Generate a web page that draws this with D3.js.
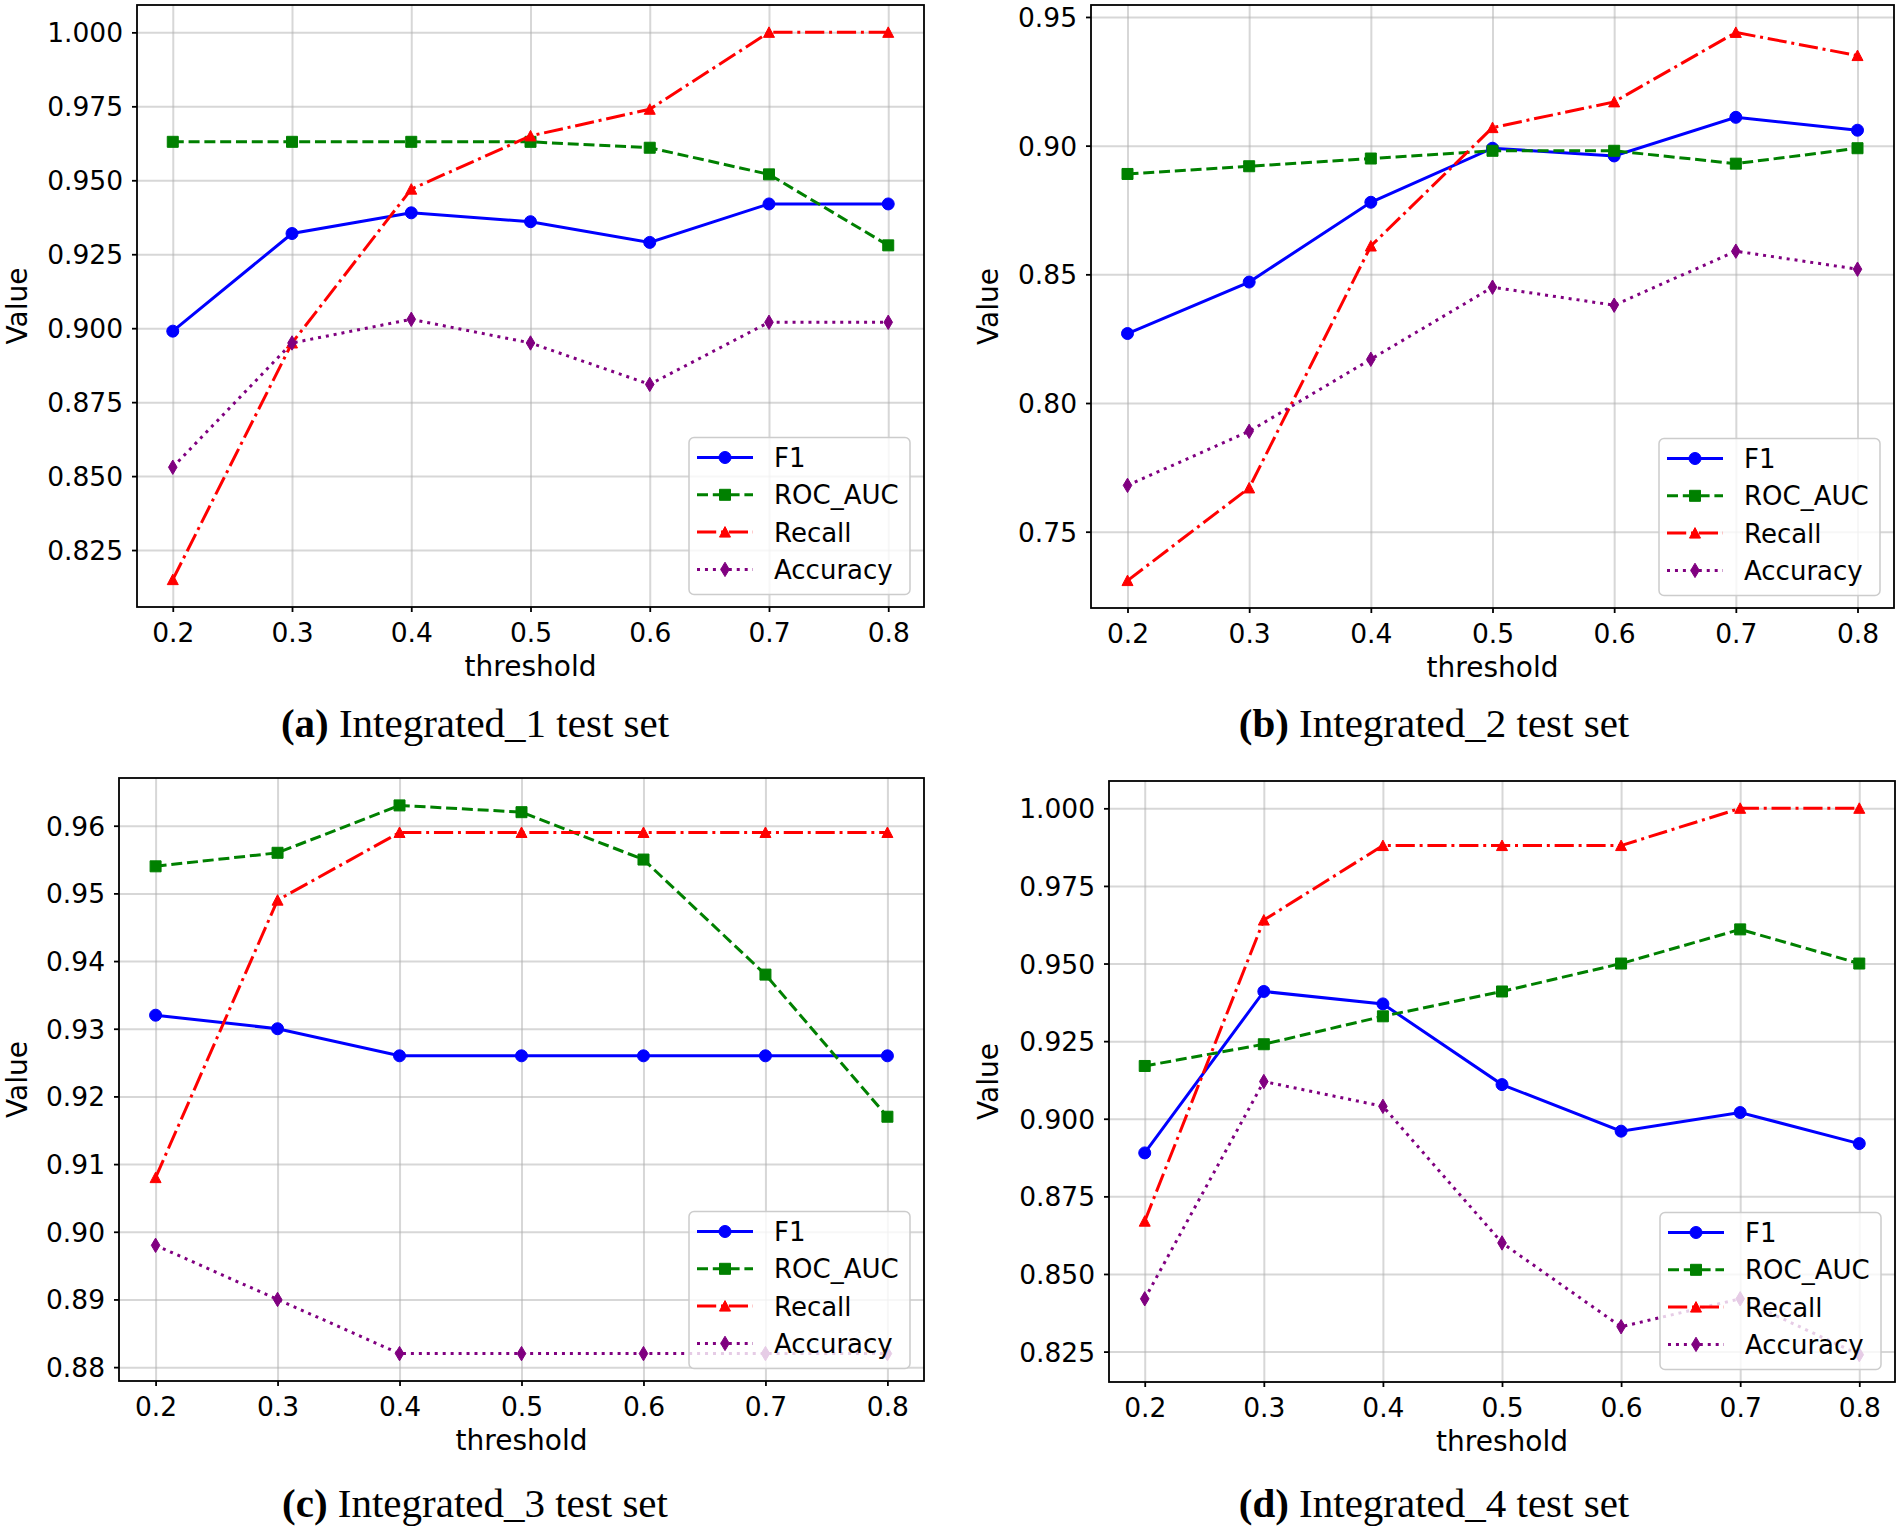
<!DOCTYPE html>
<html>
<head>
<meta charset="utf-8">
<script src="https://cdn.jsdelivr.net/npm/d3@7"></script>
<style>
  body { margin: 0; background: #fff; }
  svg { display: block; }
</style>
</head>
<body>
<div id="chart"></div>
<script>
// thresholds on the x axis
const thresholds = [0.2, 0.3, 0.4, 0.5, 0.6, 0.7, 0.8];
const metricNames = ["F1", "ROC_AUC", "Recall", "Accuracy"];

// (a) Integrated_1
const f1_1     = [0.899, 0.932, 0.939, 0.936, 0.929, 0.942, 0.942];
const roc_1    = [0.963, 0.963, 0.963, 0.963, 0.961, 0.952, 0.928];
const recall_1 = [0.815, 0.895, 0.947, 0.965, 0.974, 1.000, 1.000];
const acc_1    = [0.853, 0.895, 0.903, 0.895, 0.881, 0.902, 0.902];

// (b) Integrated_2
const f1_2     = [0.827, 0.847, 0.878, 0.899, 0.896, 0.911, 0.906];
const roc_2    = [0.889, 0.892, 0.895, 0.898, 0.898, 0.893, 0.899];
const recall_2 = [0.731, 0.767, 0.861, 0.907, 0.917, 0.944, 0.935];
const acc_2    = [0.768, 0.789, 0.817, 0.845, 0.838, 0.859, 0.852];

// (c) Integrated_3
const f1_3     = [0.932, 0.930, 0.926, 0.926, 0.926, 0.926, 0.926];
const roc_3    = [0.954, 0.956, 0.963, 0.962, 0.955, 0.938, 0.917];
const recall_3 = [0.908, 0.949, 0.959, 0.959, 0.959, 0.959, 0.959];
const acc_3    = [0.898, 0.890, 0.882, 0.882, 0.882, 0.882, 0.882];

// (d) Integrated_4
const f1_4     = [0.889, 0.941, 0.937, 0.911, 0.896, 0.902, 0.892];
const roc_4    = [0.917, 0.924, 0.933, 0.941, 0.950, 0.961, 0.950];
const recall_4 = [0.867, 0.964, 0.988, 0.988, 0.988, 1.000, 1.000];
const acc_4    = [0.842, 0.912, 0.904, 0.860, 0.833, 0.842, 0.824];

// tick values
const xTicks = [0.2, 0.3, 0.4, 0.5, 0.6, 0.7, 0.8];
const yTicks_1 = [0.825, 0.850, 0.875, 0.900, 0.925, 0.950, 0.975, 1.000];
const yTicks_2 = [0.75, 0.80, 0.85, 0.90, 0.95];
const yTicks_3 = [0.88, 0.89, 0.90, 0.91, 0.92, 0.93, 0.94, 0.95, 0.96];
const yTicks_4 = [0.825, 0.850, 0.875, 0.900, 0.925, 0.950, 0.975, 1.000];

const captionTags = ["(a)", "(b)", "(c)", "(d)"];
const captionTexts = ["Integrated_1 test set", "Integrated_2 test set", "Integrated_3 test set", "Integrated_4 test set"];

// layout of the four panels (pixels)
const panels = [
    {series: [f1_1, roc_1, recall_1, acc_1], yTicks: yTicks_1, fmt: ".3f",
     box: {left: 137, right: 924, top: 5, bottom: 607}, labelX: 27, capX: 475, capY: 737},
    {series: [f1_2, roc_2, recall_2, acc_2], yTicks: yTicks_2, fmt: ".2f",
     box: {left: 1091, right: 1894, top: 5, bottom: 608}, labelX: 998, capX: 1434, capY: 737},
    {series: [f1_3, roc_3, recall_3, acc_3], yTicks: yTicks_3, fmt: ".2f",
     box: {left: 119, right: 924, top: 778, bottom: 1381}, labelX: 27, capX: 475, capY: 1517},
    {series: [f1_4, roc_4, recall_4, acc_4], yTicks: yTicks_4, fmt: ".3f",
     box: {left: 1109, right: 1895, top: 781, bottom: 1382}, labelX: 998, capX: 1434, capY: 1517}
];

const styles = [
    {color: "#0000ff", dash: null, marker: "circle"},
    {color: "#008000", dash: "11,4.8", marker: "square"},
    {color: "#ff0000", dash: "19.2,4.8,3,4.8", marker: "triangle"},
    {color: "#800080", dash: "3,4.95", marker: "diamond"}
];

const tickFont = "DejaVu Sans, Verdana, sans-serif";

function markerPath(type) {
    if (type === "circle") return "M6,0A6,6 0 1,1 -6,0A6,6 0 1,1 6,0Z";
    if (type === "square") return "M-5.5,-5.5H5.5V5.5H-5.5Z";
    if (type === "triangle") return "M0,-5.5L5.5,5L-5.5,5Z";
    return "M0,-7.2L4.3,0L0,7.2L-4.3,0Z";
}

const svg = d3.select("#chart").append("svg")
    .attr("width", 1900)
    .attr("height", 1529);

svg.append("rect").attr("width", 1900).attr("height", 1529).attr("fill", "#fff");

panels.forEach(function (p, pi) {
    let b = p.box;
    let g = svg.append("g");

    let all = p.series.flat();
    let lo = d3.min(all), hi = d3.max(all);
    let pad = (hi - lo) * 0.05;

    let x = d3.scaleLinear().domain([0.17, 0.83]).range([b.left, b.right]);
    let y = d3.scaleLinear().domain([lo - pad, hi + pad]).range([b.bottom, b.top]);

    // grid
    g.append("g")
        .attr("transform", "translate(0," + b.bottom + ")")
        .call(d3.axisBottom(x).tickValues(xTicks).tickSize(-(b.bottom - b.top)).tickFormat(""))
        .call(s => s.select(".domain").remove())
        .selectAll("line").attr("stroke", "#b0b0b0").attr("stroke-opacity", 0.5).attr("stroke-width", 2);
    g.append("g")
        .attr("transform", "translate(" + b.left + ",0)")
        .call(d3.axisLeft(y).tickValues(p.yTicks).tickSize(-(b.right - b.left)).tickFormat(""))
        .call(s => s.select(".domain").remove())
        .selectAll("line").attr("stroke", "#b0b0b0").attr("stroke-opacity", 0.5).attr("stroke-width", 2);

    // lines + markers
    let line = d3.line().x((d, i) => x(thresholds[i])).y(d => y(d));
    p.series.forEach(function (vals, si) {
        let st = styles[si];
        g.append("path")
            .attr("d", line(vals))
            .attr("fill", "none")
            .attr("stroke", st.color)
            .attr("stroke-width", 3)
            .attr("stroke-dasharray", st.dash);
        g.selectAll(".m" + si)
            .data(vals)
            .enter()
            .append("path")
            .attr("class", "m" + si)
            .attr("d", markerPath(st.marker))
            .attr("transform", (d, i) => "translate(" + x(thresholds[i]) + "," + y(d) + ")")
            .attr("fill", st.color)
            .attr("stroke", st.color)
            .attr("stroke-width", 1);
    });

    // axes
    let xAxis = g.append("g")
        .attr("transform", "translate(0," + b.bottom + ")")
        .call(d3.axisBottom(x).tickValues(xTicks).tickSize(5).tickPadding(8).tickFormat(d3.format(".1f")));
    let yAxis = g.append("g")
        .attr("transform", "translate(" + b.left + ",0)")
        .call(d3.axisLeft(y).tickValues(p.yTicks).tickSize(5).tickPadding(9).tickFormat(d3.format(p.fmt)));
    [xAxis, yAxis].forEach(function (a) {
        a.select(".domain").remove();
        a.selectAll("line").attr("stroke", "#000").attr("stroke-width", 1.8);
        a.selectAll("text").attr("font-family", tickFont).attr("font-size", 26.5).attr("fill", "#000");
    });
    xAxis.selectAll("text").attr("dy", null).attr("y", 35);
    yAxis.selectAll("text").attr("dy", "0.36em");

    // frame
    g.append("rect")
        .attr("x", b.left).attr("y", b.top)
        .attr("width", b.right - b.left).attr("height", b.bottom - b.top)
        .attr("fill", "none").attr("stroke", "#000").attr("stroke-width", 1.8);

    // axis labels
    g.append("text")
        .attr("x", (b.left + b.right) / 2)
        .attr("y", b.bottom + 69)
        .attr("text-anchor", "middle")
        .attr("font-family", tickFont).attr("font-size", 28)
        .text("threshold");
    g.append("text")
        .attr("transform", "translate(" + p.labelX + "," + ((b.top + b.bottom) / 2) + ") rotate(-90)")
        .attr("text-anchor", "middle")
        .attr("font-family", tickFont).attr("font-size", 28)
        .text("Value");

    // legend
    let lw = 221, lh = 157;
    let lx = b.right - 14 - lw, ly = b.bottom - 12.5 - lh;
    let leg = g.append("g").attr("transform", "translate(" + lx + "," + ly + ")");
    leg.append("rect")
        .attr("width", lw).attr("height", lh).attr("rx", 5)
        .attr("fill", "#fff").attr("fill-opacity", 0.8)
        .attr("stroke", "#cccccc").attr("stroke-width", 1.5);
    metricNames.forEach(function (name, si) {
        let st = styles[si];
        let ey = 20 + si * 37.3;
        leg.append("line")
            .attr("x1", 8).attr("x2", 64).attr("y1", ey).attr("y2", ey)
            .attr("stroke", st.color).attr("stroke-width", 3)
            .attr("stroke-dasharray", st.dash);
        leg.append("path")
            .attr("d", markerPath(st.marker))
            .attr("transform", "translate(36," + ey + ")")
            .attr("fill", st.color).attr("stroke", st.color).attr("stroke-width", 1);
        leg.append("text")
            .attr("x", 85).attr("y", ey + 9.5)
            .attr("font-family", tickFont).attr("font-size", 26)
            .text(name);
    });

    // caption
    let cap = svg.append("text")
        .attr("x", p.capX).attr("y", p.capY)
        .attr("text-anchor", "middle")
        .attr("font-family", "Liberation Serif, Times New Roman, serif")
        .attr("font-size", 41);
    cap.append("tspan").attr("font-weight", "bold").text(captionTags[pi]);
    cap.append("tspan").text(" " + captionTexts[pi]);
});
</script>
</body>
</html>
